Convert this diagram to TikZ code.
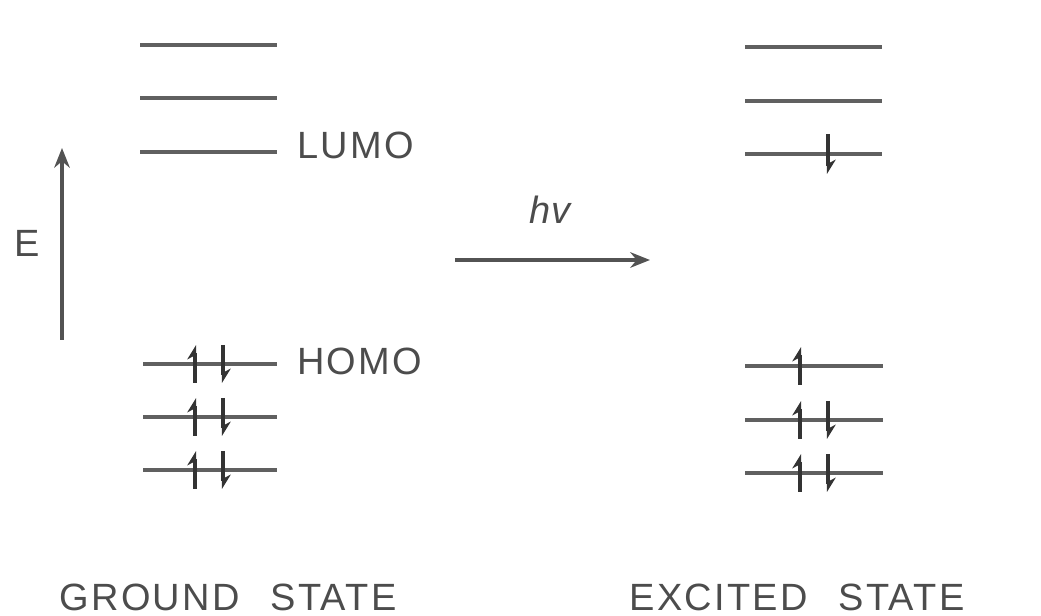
\documentclass[tikz,border=0pt]{standalone}
\usepackage{fontspec}
\setmainfont{Liberation Sans}
\usetikzlibrary{arrows.meta, positioning}

\begin{document}
\begin{tikzpicture}[
    x=0.025cm, y=-0.025cm,
    level/.style={draw, gray!75!black, line width=2.3pt},
    spinup/.style={draw, black!80, line width=2.3pt, -{Stealth[left, length=9pt, width=11pt]}},
    spindown/.style={draw, black!80, line width=2.3pt, -{Stealth[left, length=9pt, width=11pt]}},
    line/.style={draw, gray!65!black, line width=2.6pt, -{Stealth[length=14pt, width=11pt]}},
    label/.style={font=\fontsize{27}{30}\selectfont\addfontfeatures{LetterSpace=6}, text=black!70, inner sep=0pt}
]
    \useasboundingbox (0,0) rectangle (1041,616);

    % ground state levels
    \foreach \y in {45, 98, 152}
        \draw [level] (140,\y) -- (277,\y);
    \foreach \y in {364, 417, 470} {
        \draw [level] (143,\y) -- (277,\y);
        \draw [spinup] (195,\y+19) -- (195,\y-19);
        \draw [spindown] (223,\y-19) -- (223,\y+19);
    }
    \node [label, anchor=west] (lumo) at (297,145) {LUMO};
    \node [label, anchor=west] (homo) at (297,361) {HOMO};

    % excited state levels
    \foreach \y in {47, 101, 154}
        \draw [level] (745,\y) -- (882,\y);
    \draw [spindown] (828,134) -- (828,174);
    \foreach \y in {366, 420, 473}
        \draw [level] (745,\y) -- (883,\y);
    \draw [spinup] (800,385) -- (800,347);
    \draw [spinup] (800,439) -- (800,401);
    \draw [spindown] (828,401) -- (828,439);
    \draw [spinup] (800,492) -- (800,454);
    \draw [spindown] (828,454) -- (828,492);

    % energy axis and excitation
    \coordinate (ebottom) at (62,340);
    \coordinate (etop) at (62,148);
    \draw [line] (ebottom) -- (etop);
    \node [label] (energy) at (27,243) {E};

    \coordinate (hvstart) at (455,260);
    \coordinate (hvend) at (650,260);
    \draw [line] (hvstart) -- (hvend);
    \node [label, font=\fontsize{27}{30}\selectfont\itshape] (photon) at (550,210) {hv};

    \node [label] (ground) at (228,597) {GROUND\hspace{22pt}STATE};
    \node [label] (excited) at (797,597) {EXCITED\hspace{22pt}STATE};
\end{tikzpicture}
\end{document}
